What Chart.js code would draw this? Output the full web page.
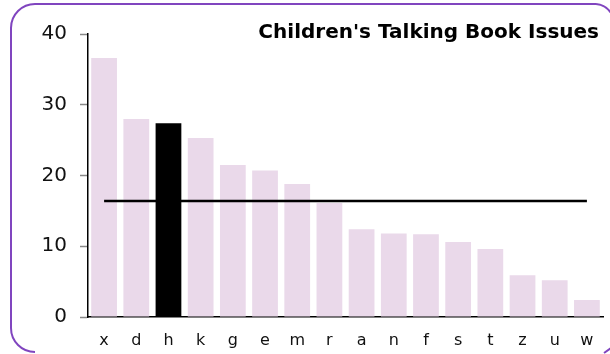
<!DOCTYPE html>
<html lang="en">
<head>
    <meta charset="utf-8">
    <title>Children's Talking Book Issues</title>
    <script src="https://cdn.jsdelivr.net/npm/chart.js"></script>
    <style>
        html, body { margin: 0; padding: 0; background: #fff; overflow: hidden; }
        #page { position: relative; width: 610px; height: 354px; overflow: hidden; }
        #title {
            position: absolute; right: 11px; top: 19px; white-space: nowrap;
            font: bold 20px "DejaVu Sans", Verdana, sans-serif; color: #000;
        }
    </style>
</head>
<body>
<div id="page">
    <canvas id="myChart" width="610" height="354"></canvas>
    <div id="title">Children's Talking Book Issues</div>
</div>

<script>
    // data
    const categories = ['x', 'd', 'h', 'k', 'g', 'e', 'm', 'r', 'a', 'n', 'f', 's', 't', 'z', 'u', 'w'];
    const issues = [36.6, 28.0, 27.4, 25.3, 21.5, 20.7, 18.8, 16.1, 12.4, 11.8, 11.7, 10.6, 9.6, 5.9, 5.2, 2.4];
    const averageIssues = 16.4;
    const highlighted = 'h';
    const yTicks = [0, 10, 20, 30, 40];

    const font = '"DejaVu Sans", Verdana, sans-serif';

    // purple frame: rounded on the left, the right-hand corners are only hinted
    const framePlugin = {
        id: 'frame',
        beforeDraw(chart) {
            const ctx = chart.ctx;
            ctx.save();
            ctx.strokeStyle = '#8045bf';
            ctx.lineWidth = 2;
            ctx.beginPath();
            ctx.moveTo(596, 4);
            ctx.lineTo(35, 4);
            ctx.arcTo(11, 4, 11, 28, 24);
            ctx.lineTo(11, 328);
            ctx.arcTo(11, 352, 35, 352, 24);
            ctx.moveTo(596, 4);
            ctx.quadraticCurveTo(606, 5, 611, 13);
            ctx.moveTo(604, 353);
            ctx.lineTo(611, 348);
            ctx.stroke();
            ctx.restore();
        }
    };

    new Chart(document.getElementById('myChart'), {
        type: 'bar',
        data: {
            labels: categories,
            datasets: [{
                type: 'line',
                label: 'Average',
                data: [
                    { x: categories[0], y: averageIssues },
                    { x: categories[categories.length - 1], y: averageIssues }
                ],
                borderColor: '#000',
                borderWidth: 2.5,
                pointRadius: 0,
                order: 1
            }, {
                label: 'Issues',
                data: issues,
                backgroundColor: ctx => categories[ctx.dataIndex] === highlighted ? '#000' : '#ead9ea',
                barPercentage: 0.8,
                categoryPercentage: 1,
                order: 2
            }]
        },
        options: {
            responsive: false,
            animation: false,
            layout: { padding: { left: 0, right: 7, top: 34, bottom: 4 } },
            plugins: { legend: { display: false }, tooltip: { enabled: false } },
            scales: {
                x: {
                    afterFit: axis => { axis.height = 33; },
                    grid: { display: true, drawOnChartArea: false, drawTicks: false, color: 'transparent' },
                    border: { color: '#000', width: 1.5 },
                    ticks: { color: '#111', font: { family: font, size: 16 }, padding: 14, maxRotation: 0 }
                },
                y: {
                    min: 0,
                    max: 40,
                    afterBuildTicks: axis => { axis.ticks = yTicks.map(v => ({ value: v })); },
                    afterFit: axis => { axis.width = 88; },
                    grid: { drawOnChartArea: false, tickLength: 8, tickColor: '#888', tickWidth: 1.5 },
                    border: { color: '#000', width: 1.5 },
                    ticks: { color: '#111', font: { family: font, size: 20 }, padding: 13 }
                }
            }
        },
        plugins: [framePlugin]
    });
</script>
</body>
</html>
